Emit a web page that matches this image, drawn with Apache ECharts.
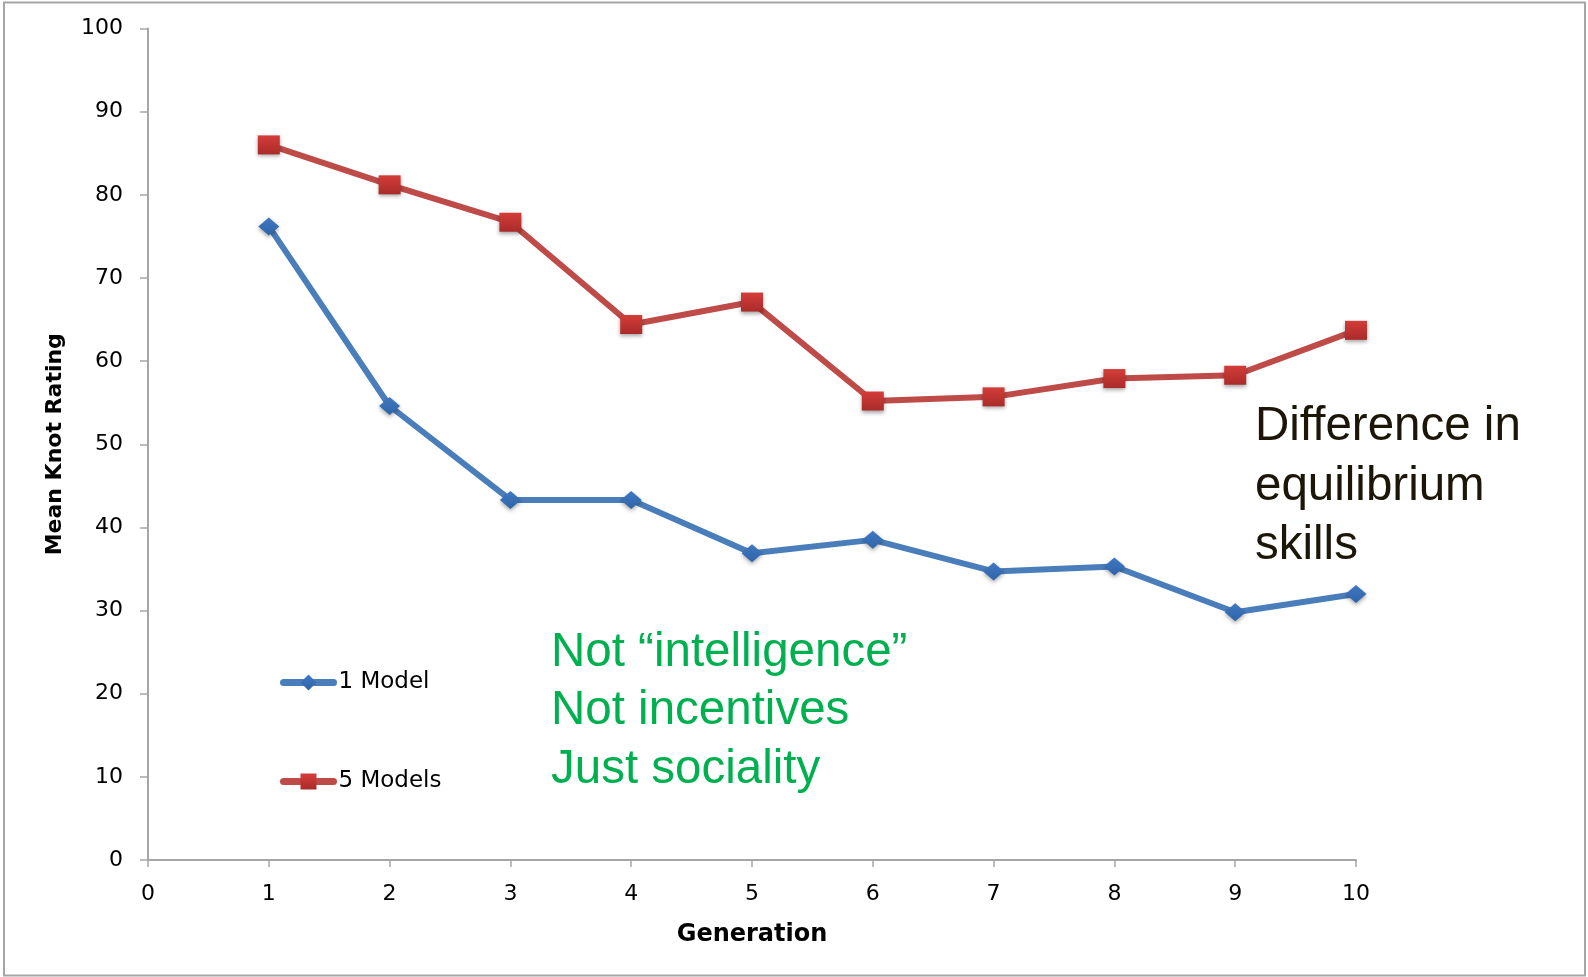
<!DOCTYPE html>
<html>
<head>
<meta charset="utf-8">
<title>Mean Knot Rating by Generation</title>
<script src="https://cdn.jsdelivr.net/npm/echarts@6/dist/echarts.min.js"></script>
<style>
  html, body { margin: 0; padding: 0; background: #ffffff; }
  #chart { width: 1588px; height: 977px; }
</style>
</head>
<body>
<div id="chart"></div>
<script>
// Generations on the x axis
var generations = [1, 2, 3, 4, 5, 6, 7, 8, 9, 10];
// Mean knot rating per generation, single model vs. five models
var oneModel = [76.2, 54.6, 43.3, 43.3, 36.9, 38.5, 34.7, 35.3, 29.8, 32.0];
var fiveModels = [86.0, 81.2, 76.7, 64.4, 67.1, 55.2, 55.7, 57.9, 58.3, 63.7];
// Series names shown in the legend
var seriesNames = ['1 Model', '5 Models'];
// Annotation text blocks
var greenNotes = ['Not \u201cintelligence\u201d', 'Not incentives', 'Just sociality'];
var blackNotes = ['Difference in', 'equilibrium', 'skills'];

function pairs(xs, ys) {
  return xs.map(function (x, i) { return [x, ys[i]]; });
}

var chart = echarts.init(document.getElementById('chart'), null, { renderer: 'canvas' });

var axisGray = '#a6a6a6';
var tickFont = 'DejaVu Sans';

var noteElements = [];
greenNotes.forEach(function (t, i) {
  noteElements.push({
    type: 'text', left: 551, top: 629 + i * 58.3, z: 10,
    style: { text: t, fill: '#00b050', font: '47.5px "Liberation Sans", Arial, sans-serif' }
  });
});
blackNotes.forEach(function (t, i) {
  noteElements.push({
    type: 'text', left: 1255, top: 403 + i * 59.5, z: 10,
    style: { text: t, fill: '#1c1608', font: '47.5px "Liberation Sans", Arial, sans-serif' }
  });
});

var option = {
  backgroundColor: '#ffffff',
  animation: false,
  grid: { left: 148, right: 232, top: 28.5, bottom: 117 },
  legend: {
    orient: 'vertical',
    left: 275,
    top: 666,
    itemWidth: 50,
    itemHeight: 20,
    itemGap: 76,
    lineStyle: { width: 7, cap: 'round' },
    textStyle: { fontFamily: tickFont, fontSize: 23, color: '#000000' },
    data: seriesNames
  },
  xAxis: {
    type: 'value',
    min: 0, max: 10, interval: 1,
    name: 'Generation',
    nameLocation: 'middle',
    nameGap: 63,
    nameTextStyle: { fontFamily: tickFont, fontWeight: 'bold', fontSize: 24, color: '#000000' },
    axisLine: { show: true, onZero: false, lineStyle: { color: axisGray, width: 2 } },
    axisTick: { show: true, length: 7, lineStyle: { color: axisGray, width: 1.5 } },
    axisLabel: { fontFamily: tickFont, fontSize: 22, color: '#000000', margin: 23 },
    splitLine: { show: false }
  },
  yAxis: {
    type: 'value',
    min: 0, max: 100, interval: 10,
    name: 'Mean Knot Rating',
    nameLocation: 'middle',
    nameGap: 82,
    nameTextStyle: { fontFamily: tickFont, fontWeight: 'bold', fontSize: 22, color: '#000000' },
    axisLine: { show: true, lineStyle: { color: axisGray, width: 2 } },
    axisTick: { show: true, length: 8, lineStyle: { color: axisGray, width: 1.5 } },
    axisLabel: { fontFamily: tickFont, fontSize: 22, color: '#000000', margin: 25 },
    splitLine: { show: false }
  },
  series: [
    {
      name: seriesNames[0],
      type: 'line',
      data: pairs(generations, oneModel),
      symbol: 'diamond',
      symbolSize: [21, 18],
      lineStyle: { color: '#4a7ebb', width: 6, cap: 'round', join: 'round' },
      itemStyle: {
        color: new echarts.graphic.LinearGradient(0, 0, 0, 1, [
          { offset: 0, color: '#3f78c2' },
          { offset: 1, color: '#2f64a8' }
        ]),
        shadowBlur: 4, shadowOffsetY: 2, shadowColor: 'rgba(0,0,0,0.35)'
      },
      z: 3
    },
    {
      name: seriesNames[1],
      type: 'line',
      data: pairs(generations, fiveModels),
      symbol: 'rect',
      symbolSize: [22, 19],
      lineStyle: { color: '#be4b48', width: 6, cap: 'round', join: 'round' },
      itemStyle: {
        color: new echarts.graphic.LinearGradient(0, 0, 0, 1, [
          { offset: 0, color: '#d43d39' },
          { offset: 1, color: '#a92b29' }
        ]),
        shadowBlur: 4, shadowOffsetY: 2, shadowColor: 'rgba(0,0,0,0.35)'
      },
      z: 4
    }
  ],
  graphic: [
    {
      type: 'rect', z: -1, silent: true,
      shape: { x: 4, y: 2.5, width: 1581, height: 973 },
      style: { fill: 'none', stroke: '#a6a6a6', lineWidth: 2 }
    }
  ].concat(noteElements)
};

chart.setOption(option);
</script>
</body>
</html>
